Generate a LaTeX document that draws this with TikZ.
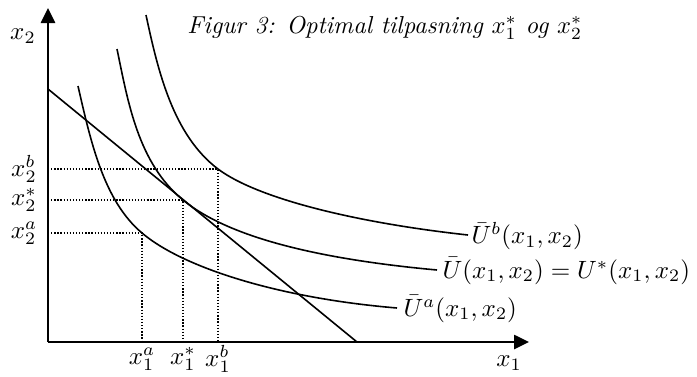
\documentclass[tikz,border=0pt]{standalone}
\usetikzlibrary{arrows.meta}
\begin{document}
\begin{tikzpicture}[x=1pt,y=-1pt,
  axisline/.style={line width=2.6pt,-{Triangle[length=15pt,width=14pt]}},
  curve/.style={line width=1.6pt},
  budget/.style={line width=1.6pt},
  guide/.style={line width=1.3pt,dash pattern=on 1.3pt off 1.8pt},
  mlab/.style={inner sep=0pt,scale=2.5},
  ttl/.style={inner sep=0pt,anchor=base west,scale=2.45,font=\itshape}]
\useasboundingbox (0,0) rectangle (697,376);
% axes
\coordinate (O) at (48,342);
\coordinate (Ytip) at (48,8);
\coordinate (Xtip) at (529,342);
\draw[axisline] (O) -- (Ytip);
\draw[axisline] (O) -- (Xtip);
\node[mlab] (lx2) at (23,36) {$x_2$};
\node[mlab] (lx1) at (509,363) {$x_1$};
% title
\node[ttl] (title) at (187,33) {Figur 3: Optimal tilpasning $x_1^*$ og $x_2^*$};
% budget line
\coordinate (B0) at (48,89);
\coordinate (B1) at (357,342);
\draw[budget] (B0) -- (B1);
% indifference curves
\coordinate (Sa) at (78,86);   \coordinate (Pa) at (142,233); \coordinate (Ea) at (397,308);
\coordinate (Ss) at (117,49);  \coordinate (Ps) at (183,200); \coordinate (Es) at (437,270);
\coordinate (Sb) at (146,15);  \coordinate (Pb) at (218,169); \coordinate (Eb) at (468,235);
\draw[curve] (Sa) .. controls (91,143) and (104,201) .. (Pa)
                  .. controls (182,267) and (277,298) .. (Ea);
\draw[curve] (Ss) .. controls (128,102) and (138,163) .. (Ps)
                  .. controls (228,237) and (317,259) .. (Es);
\draw[curve] (Sb) .. controls (158,71) and (173,135) .. (Pb)
                  .. controls (258,199) and (358,223) .. (Eb);
\node[mlab,anchor=west] (lUa) at ([xshift=6pt,yshift=-1pt]Ea) {$\bar U^a(x_1,x_2)$};
\node[mlab,anchor=west] (lUs) at ([xshift=5pt,yshift=-1pt]Es) {$\bar U(x_1,x_2)=U^*(x_1,x_2)$};
\node[mlab,anchor=west] (lUb) at ([xshift=3pt,yshift=-1pt]Eb) {$\bar U^b(x_1,x_2)$};
% guide lines
\draw[guide] (O |- Pa) -- (Pa) -- (Pa |- O);
\draw[guide] (O |- Ps) -- (Ps) -- (Ps |- O);
\draw[guide] (O |- Pb) -- (Pb) -- (Pb |- O);
% tick labels
\node[mlab] (x2b) at (24,169) {$x_2^b$};
\node[mlab] (x2s) at (24,200) {$x_2^*$};
\node[mlab] (x2a) at (24,233) {$x_2^a$};
\node[mlab] (x1a) at (142,359) {$x_1^a$};
\node[mlab] (x1s) at (183,359) {$x_1^*$};
\node[mlab] (x1b) at (218,359) {$x_1^b$};
\end{tikzpicture}
\end{document}
